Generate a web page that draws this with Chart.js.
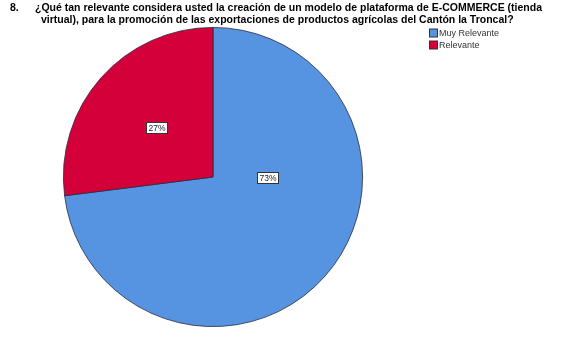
<!DOCTYPE html>
<html>
<head>
<meta charset="utf-8">
<script src="https://cdn.jsdelivr.net/npm/chart.js@4/dist/chart.umd.min.js"></script>
<style>
  html, body { margin: 0; padding: 0; background: #fff; }
  #wrap { position: relative; width: 570px; height: 342px; }
</style>
</head>
<body>
<div id="wrap"><canvas id="pie" width="570" height="342"></canvas></div>
<script>
// Chart data
const categories = ['Muy Relevante', 'Relevante'];
const percents = [73, 27];
const sliceColors = ['#5694e2', '#d3003a'];
const questionNumber = '8.';
const titleLines = [
    '¿Qué tan relevante considera usted la creación de un modelo de plataforma de E-COMMERCE (tienda',
    'virtual), para la promoción de las exportaciones de productos agrícolas del Cantón la Troncal?'
];

// title + legend drawn straight on the canvas
const headerPlugin = {
    id: 'header',
    afterDraw(chart) {
        const ctx = chart.ctx;
        ctx.save();
        ctx.fillStyle = '#000';
        ctx.textBaseline = 'middle';
        ctx.font = 'bold 10.5px "Liberation Sans", Arial, sans-serif';
        ctx.fillText(questionNumber, 10, 8);
        ctx.fillText(titleLines[0], 35, 8);
        ctx.fillText(titleLines[1], 41, 20);

        // legend
        ctx.font = '9px "Liberation Sans", Arial, sans-serif';
        categories.forEach((name, i) => {
            const y = 33 + i * 12;
            ctx.fillStyle = sliceColors[i];
            ctx.fillRect(429.5, y - 4, 8, 8);
            ctx.strokeStyle = '#333';
            ctx.lineWidth = 1;
            ctx.strokeRect(429.5, y - 4, 8, 8);
            ctx.fillStyle = '#333';
            ctx.fillText(name, 439, y + 0.5);
        });
        ctx.restore();
    }
};

// percentage boxes on the slices
const boxLabelPlugin = {
    id: 'boxLabels',
    afterDatasetsDraw(chart, args, opts) {
        const ctx = chart.ctx;
        const meta = chart.getDatasetMeta(0);
        ctx.save();
        ctx.font = '8.5px "Liberation Sans", Arial, sans-serif';
        ctx.textAlign = 'center';
        ctx.textBaseline = 'middle';
        meta.data.forEach((arc, i) => {
            const p = arc.getProps(['x', 'y', 'startAngle', 'endAngle', 'outerRadius']);
            const place = opts.place[i] || {};
            const ang = place.angle !== undefined ? place.angle * Math.PI / 180 - Math.PI / 2
                                                  : (p.startAngle + p.endAngle) / 2;
            const d = p.outerRadius * (place.dist || 0.5);
            const x = Math.round(p.x + Math.cos(ang) * d);
            const y = Math.round(p.y + Math.sin(ang) * d);
            const txt = percents[i] + '%';
            const w = ctx.measureText(txt).width + 4;
            ctx.fillStyle = '#fff';
            ctx.fillRect(x - w / 2, y - 5.5, w, 11);
            ctx.strokeStyle = '#333';
            ctx.lineWidth = 1;
            ctx.strokeRect(Math.round(x - w / 2) + 0.5, y - 5.5, Math.round(w), 11);
            ctx.fillStyle = '#222';
            ctx.fillText(txt, x, y + 0.5);
        });
        ctx.restore();
    }
};

new Chart(document.getElementById('pie'), {
    type: 'pie',
    data: {
        labels: categories,
        datasets: [{
            data: percents,
            backgroundColor: sliceColors,
            borderColor: '#2a2a40',
            borderWidth: 0.8
        }]
    },
    options: {
        responsive: false,
        animation: false,
        layout: { padding: { top: 27, bottom: 15, left: 63, right: 207 } },
        plugins: {
            legend: { display: false },
            title: { display: false },
            tooltip: { enabled: false },
            boxLabels: { place: [{ angle: 91, dist: 0.37 }, { dist: 0.5 }] }
        }
    },
    plugins: [headerPlugin, boxLabelPlugin]
});
</script>
</body>
</html>
